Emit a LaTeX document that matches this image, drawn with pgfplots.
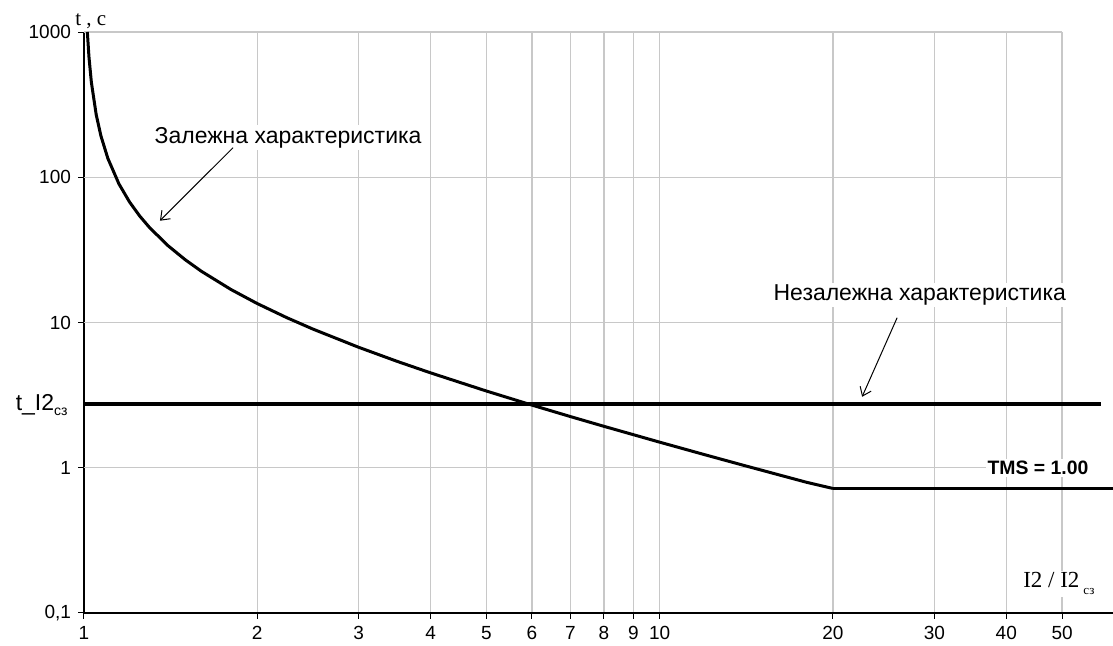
\documentclass[border=0pt]{standalone}
\usepackage{fontspec}
\setmainfont{Liberation Sans}
\newfontfamily\serif{Liberation Serif}
\usepackage{pgfplots}
\pgfplotsset{compat=1.18}
\usetikzlibrary{arrows.meta}
\definecolor{gridc}{RGB}{200,200,200}
\begin{document}
\begin{tikzpicture}
\begin{axis}[
  scale only axis, width=514.5pt, height=290.5pt,
  xmode=log, ymode=log,
  xmin=1, xmax=61.3, ymin=0.1, ymax=1000,
  axis x line*=bottom, axis y line*=left,
  axis line style={line width=0.6pt},
  xtick={1,2,3,4,5,6,7,8,9,10,20,30,40,50},
  xticklabels={\raisebox{-3.5pt}{1},2,3,4,5,6,7,8,9,10,20,30,40,50},
  ytick={0.1,1,10,100,1000},
  yticklabels={{0,1},1,10,100,1000},
  minor tick style={draw=none},
  xmajorgrids,
  major grid style={gridc, line width=0.75pt},
  tick style={black, line width=0.5pt}, major tick length=3pt, tick align=outside,
  tick label style={font=\fontsize{9.5}{10}\selectfont},
  /pgf/number format/assume math mode=true,
  clip=false,
]
% horizontal grid lines (stop at 50)
\draw[gridc, line width=0.75pt] (axis cs:1,1) -- (axis cs:50,1);
\draw[gridc, line width=0.75pt] (axis cs:1,10) -- (axis cs:50,10);
\draw[gridc, line width=0.75pt] (axis cs:1,100) -- (axis cs:50,100);
\draw[gridc, line width=0.75pt] (axis cs:1,1000) -- (axis cs:50,1000);

% dependent characteristic
\addplot[black, line width=1.5pt, line join=round] coordinates {
 (1.0135,1000) (1.02,675) (1.03,450) (1.05,270) (1.07,192.9) (1.1,135)
 (1.15,90) (1.2,67.5) (1.25,54) (1.3,45) (1.4,33.75) (1.5,27) (1.6,22.5)
 (1.8,16.875) (2,13.5) (2.25,10.8) (2.5,9) (3,6.75) (3.5,5.4) (4,4.5)
 (5,3.375) (6,2.7) (7,2.25) (8,1.929) (10,1.5) (12,1.227) (14,1.038)
 (16,0.9) (18,0.794) (20,0.72)
};
% flat part after 20
\addplot[black, line width=1.5pt] coordinates {(20,0.72) (61.3,0.72)};
% independent characteristic
\addplot[black, line width=2pt] coordinates {(1,2.75) (58.5,2.75)};

% annotations
\node[fill=white, inner sep=1pt, font=\fontsize{11.5}{13}\selectfont] at (axis cs:2.262,187.1) {Залежна характеристика};
\draw[-{Straight Barb[length=4pt,width=6pt]}, line width=0.5pt] (axis cs:1.815,159.7) -- (axis cs:1.355,50.2);
\node[fill=white, inner sep=1pt, font=\fontsize{11.5}{13}\selectfont] at (axis cs:28.3,15.5) {Незалежна характеристика};
\draw[-{Straight Barb[length=4pt,width=6pt]}, line width=0.5pt] (axis cs:25.85,10.79) -- (axis cs:22.47,3.08);
\node[fill=white, inner sep=1pt, font=\fontsize{9.7}{11}\selectfont\bfseries] at (axis cs:45.4,1.0) {TMS = 1.00};
\node[fill=white, inner sep=1pt, anchor=base west, font=\serif\fontsize{11.5}{13}\selectfont] at (axis cs:42.4,0.149) {I2 / I2\,\raisebox{-3.5pt}{\fontsize{6.5}{7}\selectfont сз}};
\node[anchor=base east, inner sep=0pt, font=\fontsize{11.5}{13}\selectfont] at ([xshift=-8pt,yshift=-3.5pt]axis cs:1,2.75) {t\_I2\raisebox{-2.5pt}{\fontsize{7}{8}\selectfont сз}};
\node[anchor=base west, inner sep=0pt, font=\serif\fontsize{10.5}{12}\selectfont] at ([xshift=-4.5pt,yshift=3.5pt]axis cs:1,1000) {t , c};
\end{axis}
\pgfresetboundingbox
\path[use as bounding box] (-42pt,-16.5pt) rectangle (514.5pt,306.5pt);
\end{tikzpicture}
\end{document}
